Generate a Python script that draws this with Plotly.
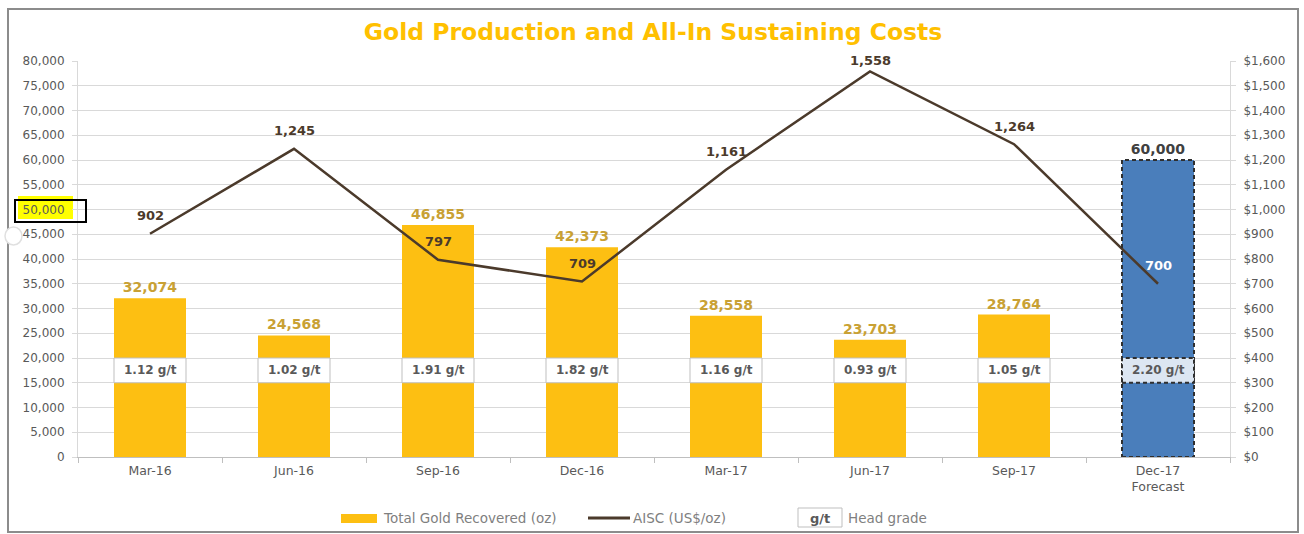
import plotly.graph_objects as go

# Quarterly production, cost and grade data
quarters = ["Mar-16", "Jun-16", "Sep-16", "Dec-16", "Mar-17", "Jun-17", "Sep-17", "Dec-17<br>Forecast"]
gold_oz = [32074, 24568, 46855, 42373, 28558, 23703, 28764, 60000]
aisc = [902, 1245, 797, 709, 1161, 1558, 1264, 700]
head_grade = ["1.12 g/t", "1.02 g/t", "1.91 g/t", "1.82 g/t", "1.16 g/t", "0.93 g/t", "1.05 g/t", "2.20 g/t"]
is_forecast = [False, False, False, False, False, False, False, True]

GOLD = "#FDBF12"
BLUE = "#4A7EBB"
BROWN = "#4B3A2B"
GOLD_TEXT = "#C9A134"
DARK = "#404040"
GRID = "#D9D9D9"
TICK_TXT = "#595959"
LEG_TXT = "#7F7F7F"
FONT = "DejaVu Sans"

W, H = 1304, 534
ML, MR, MT, MB = 78, 74, 61, 77
PW, PH = W - ML - MR, H - MT - MB
AISC_MAX = 1600


def px(x):
    return (x - ML) / PW


def py(y):
    return (H - MB - y) / PH


xs = list(range(len(quarters)))
bar_w = 0.5
grade_lo, grade_hi = 15000, 20000

fig = go.Figure()

fig.add_trace(go.Bar(
    x=xs, y=gold_oz, width=bar_w,
    marker=dict(color=[BLUE if f else GOLD for f in is_forecast], line=dict(width=0)),
    texttemplate="%{y:,}", textposition="outside", constraintext="none",
    textfont=dict(family=FONT, size=14, weight="bold",
                  color=[DARK if f else GOLD_TEXT for f in is_forecast]),
    cliponaxis=False, showlegend=False, hoverinfo="skip",
))

fig.add_trace(go.Scatter(
    x=xs, y=aisc, yaxis="y2", mode="lines",
    line=dict(color=BROWN, width=2.5),
    cliponaxis=False, showlegend=False, hoverinfo="skip",
))

shapes = []
annotations = []

# AISC value labels above each point, kept inside the plot area
for i, (v, f) in enumerate(zip(aisc, is_forecast)):
    room = (AISC_MAX - v) / AISC_MAX * PH
    annotations.append(dict(x=i, y=v, xref="x", yref="y2", text=f"{v:,}", showarrow=False,
                            yshift=min(18, room), font=dict(family=FONT, size=13, weight="bold",
                                                            color="white" if f else BROWN)))

# Head grade boxes and forecast outline
for i, (g, f) in enumerate(zip(head_grade, is_forecast)):
    if f:
        shapes.append(dict(type="rect", xref="x", yref="y", x0=i - bar_w / 2, x1=i + bar_w / 2,
                           y0=0, y1=gold_oz[i], line=dict(color="#2F2F2F", width=2, dash="4px,3px"),
                           fillcolor="rgba(0,0,0,0)", layer="above"))
    shapes.append(dict(type="rect", xref="x", yref="y", x0=i - bar_w / 2, x1=i + bar_w / 2,
                       y0=grade_lo, y1=grade_hi,
                       fillcolor="#DCE6F2" if f else "white",
                       line=dict(color="#2F2F2F" if f else "#BFBFBF", width=2 if f else 1,
                                 dash="4px,3px" if f else "solid"),
                       layer="above"))
    annotations.append(dict(x=i, y=(grade_lo + grade_hi) / 2, xref="x", yref="y", text=f"<b>{g}</b>",
                            showarrow=False, font=dict(family=FONT, size=12, color=TICK_TXT)))

# Highlight on the 50,000 tick label
shapes.append(dict(type="rect", xref="paper", yref="paper", x0=px(18), x1=px(73), y0=py(219), y1=py(196),
                   fillcolor="#FFFF00", line=dict(width=0), layer="below"))
shapes.append(dict(type="rect", xref="paper", yref="paper", x0=px(15), x1=px(86), y0=py(222), y1=py(200),
                   fillcolor="rgba(0,0,0,0)", line=dict(color="black", width=2), layer="above"))

# Chart frame
shapes.append(dict(type="rect", xref="paper", yref="paper", x0=px(8), x1=px(1298), y0=py(532), y1=py(9),
                   fillcolor="rgba(0,0,0,0)", line=dict(color="#8C8C8C", width=2), layer="below"))
shapes.append(dict(type="circle", xref="paper", yref="paper", x0=px(5), x1=px(22), y0=py(245), y1=py(227),
                   fillcolor="white", line=dict(color="#E0E0E0", width=1.5), layer="below"))

# Legend
leg_y = py(518)
leg_font = dict(family=FONT, size=13.5, color=LEG_TXT)
shapes.append(dict(type="rect", xref="paper", yref="paper", x0=px(341), x1=px(377), y0=py(523), y1=py(514),
                   fillcolor=GOLD, line=dict(width=0)))
annotations.append(dict(x=px(381), y=leg_y, xref="paper", yref="paper", xanchor="left", yanchor="middle",
                        text="Total Gold Recovered (oz)", showarrow=False, font=leg_font))
shapes.append(dict(type="line", xref="paper", yref="paper", x0=px(588), x1=px(630), y0=leg_y, y1=leg_y,
                   line=dict(color=BROWN, width=3)))
annotations.append(dict(x=px(631), y=leg_y, xref="paper", yref="paper", xanchor="left", yanchor="middle",
                        text="AISC (US$/oz)", showarrow=False, font=leg_font))
shapes.append(dict(type="rect", xref="paper", yref="paper", x0=px(798), x1=px(842), y0=py(527), y1=py(508),
                   fillcolor="white", line=dict(color="#BFBFBF", width=1)))
annotations.append(dict(x=px(820), y=leg_y, xref="paper", yref="paper", xanchor="center", yanchor="middle",
                        text="<b>g/t</b>", showarrow=False, font=dict(family=FONT, size=13, color=TICK_TXT)))
annotations.append(dict(x=px(846), y=leg_y, xref="paper", yref="paper", xanchor="left", yanchor="middle",
                        text="Head grade", showarrow=False, font=leg_font))

fig.update_layout(
    width=W, height=H,
    margin=dict(l=ML, r=MR, t=MT, b=MB, pad=0),
    paper_bgcolor="white", plot_bgcolor="white",
    title=dict(text="<b>Gold Production and All-In Sustaining Costs</b>", x=px(653), xref="paper",
               xanchor="center", y=1 - 32 / H, yanchor="middle",
               font=dict(family=FONT, size=23.5, color="#FFC000")),
    xaxis=dict(
        range=[-0.5, len(quarters) - 0.5], tickvals=xs, ticktext=quarters, ticks="",
        showgrid=False, showline=True, linecolor="#BFBFBF", linewidth=1, zeroline=False,
        ticklabelstandoff=2,
        tickfont=dict(family=FONT, size=12.5, color=TICK_TXT),
        minor=dict(tickvals=[i - 0.5 for i in range(len(quarters) + 1)], ticks="outside",
                   ticklen=5, tickcolor="#BFBFBF", showgrid=False),
    ),
    yaxis=dict(
        range=[0, 80000], dtick=5000, tickformat=",", showgrid=True, gridcolor=GRID, gridwidth=1,
        showline=True, linecolor=GRID, ticks="outside", ticklen=5, tickcolor=GRID, zeroline=False,
        ticklabelstandoff=5,
        tickfont=dict(family=FONT, size=12, color=TICK_TXT),
    ),
    yaxis2=dict(
        range=[0, AISC_MAX], dtick=100, tickformat=",", tickprefix="$", overlaying="y", side="right",
        showgrid=False, showline=True, linecolor=GRID, ticks="outside", ticklen=5, tickcolor=GRID,
        zeroline=False, ticklabelstandoff=5,
        tickfont=dict(family=FONT, size=12, color=TICK_TXT),
    ),
    shapes=shapes,
    annotations=annotations,
    bargap=0.5,
)

fig.write_html("out.html")
